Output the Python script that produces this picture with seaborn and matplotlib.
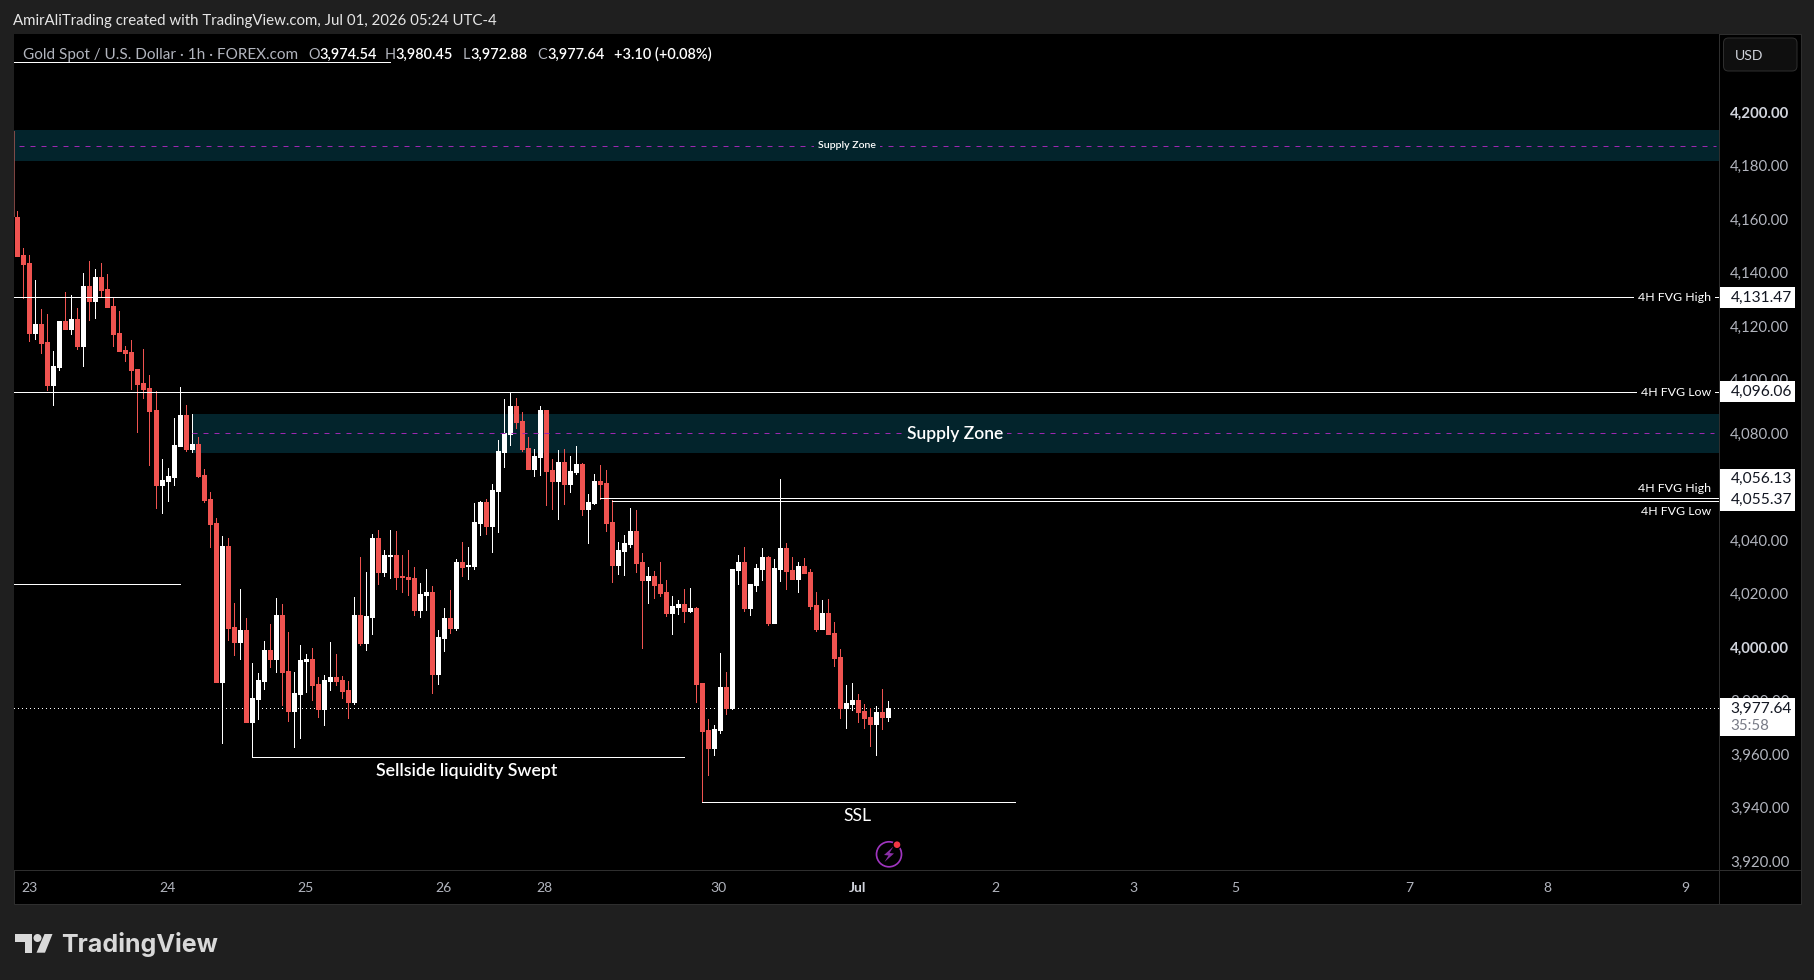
import matplotlib
matplotlib.use("Agg")
import matplotlib.pyplot as plt
from matplotlib.patches import Rectangle, Circle, Polygon, FancyBboxPatch
from matplotlib.transforms import IdentityTransform
import pandas as pd
import seaborn as sns

# Hourly OHLC
opens = [4161.40, 4147.19, 4144.20, 4118.03, 4121.39, 4114.66, 4098.58, 4105.31, 4122.51, 4119.52,
         4123.26, 4113.16, 4135.60, 4129.99, 4138.97, 4134.48, 4128.12, 4118.03, 4111.67, 4110.92,
         4104.56, 4099.33, 4097.46, 4089.23, 4061.17, 4062.67, 4064.18, 4075.77, 4087.36, 4074.65,
         4076.52, 4064.93, 4055.93, 4046.96, 3987.50, 4038.36, 4008.07, 4002.46, 4006.95, 3972.54,
         3981.15, 3987.88, 3999.47, 3996.10, 4012.56, 3991.62, 3976.66, 3983.01, 3995.35, 3996.10,
         3986.75, 3977.41, 3987.88, 3989.37, 3988.25, 3984.52, 3980.03, 4012.56, 4002.09, 4011.81,
         4041.35, 4028.64, 4034.62, 4035.00, 4027.15, 4026.77, 4026.40, 4014.43, 4020.04, 4021.16,
         3990.50, 4003.96, 4011.44, 4007.70, 4032.38, 4030.88, 4030.88, 4046.97, 4054.82, 4045.84,
         4058.93, 4073.52, 4080.25, 4090.72, 4085.11, 4075.01, 4067.16, 4071.65, 4089.22, 4066.78,
         4062.67, 4069.78, 4061.55, 4066.04, 4069.03, 4052.20, 4054.44, 4062.67, 4061.92, 4047.34,
         4031.26, 4036.49, 4039.11, 4043.97, 4032.38, 4025.65, 4027.14, 4024.15, 4021.16, 4013.31,
         4015.55, 4016.67, 4014.05, 4015.18, 3987.13, 3969.55, 3962.82, 3969.55, 3985.63, 3977.78,
         4029.39, 4032.38, 4015.18, 4023.78, 4029.76, 4034.25, 4009.57, 4029.76, 4037.61, 4029.39,
         4026.02, 4030.88, 4028.64, 4016.30, 4007.32, 4013.31, 4005.83, 3996.85, 3977.78, 3979.28,
         3980.77, 3976.66, 3974.41, 3971.80, 3976.28, 3974.54]
closes = [4146.82, 4143.83, 4118.03, 4121.39, 4114.29, 4098.58, 4105.69, 4122.51, 4119.52, 4123.26,
          4113.16, 4135.60, 4129.99, 4138.97, 4134.11, 4127.75, 4117.65, 4111.29, 4110.55, 4104.19,
          4098.96, 4097.08, 4088.86, 4061.17, 4063.06, 4064.55, 4076.14, 4087.36, 4074.65, 4076.52,
          4064.55, 4055.56, 4046.59, 3987.50, 4038.36, 4007.70, 4002.46, 4006.95, 3972.54, 3981.52,
          3988.25, 3999.47, 3996.10, 4012.56, 3991.24, 3976.66, 3983.39, 3995.73, 3996.10, 3986.38,
          3977.41, 3988.25, 3989.37, 3987.88, 3984.14, 3980.03, 4012.56, 4002.09, 4012.19, 4041.35,
          4028.64, 4035.00, 4035.00, 4026.77, 4026.77, 4026.02, 4014.43, 4020.41, 4021.16, 3990.50,
          4004.33, 4011.44, 4007.70, 4032.38, 4030.51, 4031.26, 4047.34, 4054.82, 4045.84, 4059.30,
          4073.89, 4080.62, 4090.72, 4084.73, 4074.64, 4067.16, 4072.02, 4089.22, 4066.41, 4062.67,
          4069.78, 4061.55, 4066.41, 4069.03, 4052.20, 4054.82, 4062.67, 4061.55, 4046.97, 4031.26,
          4036.87, 4039.48, 4043.97, 4032.00, 4025.65, 4027.14, 4023.78, 4020.78, 4013.31, 4015.92,
          4016.67, 4014.05, 4015.18, 3986.76, 3969.18, 3962.82, 3969.93, 3985.63, 3977.78, 4029.76,
          4032.38, 4015.18, 4024.15, 4030.13, 4034.25, 4009.57, 4030.13, 4037.61, 4029.01, 4026.02,
          4030.88, 4028.26, 4015.92, 4007.32, 4013.31, 4005.45, 3996.48, 3977.78, 3979.65, 3980.77,
          3976.28, 3974.04, 3971.80, 3976.28, 3974.41, 3977.64]
highs = [4163.65, 4149.81, 4147.19, 4137.85, 4127.00, 4125.13, 4111.29, 4122.51, 4133.36, 4132.24,
         4127.37, 4140.46, 4144.95, 4141.96, 4144.20, 4140.09, 4131.11, 4126.25, 4113.16, 4115.41,
         4104.56, 4112.04, 4102.32, 4096.34, 4070.91, 4067.54, 4086.24, 4097.83, 4091.10, 4087.74,
         4079.13, 4067.17, 4058.55, 4048.83, 4042.10, 4041.35, 4017.04, 4022.28, 4011.43, 3994.61,
         3990.87, 4002.83, 4009.19, 4018.91, 4016.67, 4006.20, 3991.24, 4001.34, 3997.97, 4000.22,
         3989.37, 3990.12, 4002.46, 3997.98, 3989.75, 3987.88, 4019.29, 4034.25, 4028.64, 4042.85,
         4044.35, 4036.87, 4044.35, 4043.97, 4035.00, 4036.87, 4030.51, 4024.53, 4029.76, 4023.41,
         4006.95, 4015.18, 4021.91, 4033.50, 4039.86, 4037.99, 4054.44, 4055.19, 4055.94, 4061.55,
         4078.00, 4093.33, 4095.95, 4093.71, 4088.47, 4079.12, 4074.64, 4090.72, 4089.22, 4070.90,
         4074.26, 4074.64, 4072.02, 4075.76, 4069.40, 4057.81, 4065.29, 4068.65, 4066.78, 4055.57,
         4039.86, 4042.47, 4052.57, 4051.82, 4035.74, 4030.51, 4029.01, 4032.38, 4025.65, 4019.66,
         4018.17, 4022.28, 4022.65, 4015.55, 3987.13, 3973.67, 3971.42, 3998.35, 3991.24, 4029.76,
         4034.99, 4037.99, 4024.15, 4031.63, 4037.61, 4034.62, 4033.50, 4063.41, 4039.48, 4034.25,
         4032.38, 4033.87, 4029.76, 4021.16, 4018.17, 4018.54, 4009.94, 3999.84, 3986.38, 3987.13,
         3983.01, 3979.28, 3977.78, 3978.53, 3984.89, 3980.45]
lows = [4146.82, 4131.11, 4115.03, 4115.78, 4110.55, 4096.71, 4091.10, 4104.19, 4119.52, 4117.65,
        4112.04, 4105.69, 4122.89, 4123.63, 4131.86, 4127.75, 4113.16, 4111.29, 4107.55, 4097.08,
        4080.99, 4093.72, 4068.66, 4052.57, 4050.70, 4055.19, 4061.17, 4075.77, 4073.90, 4073.52,
        4064.18, 4054.81, 4037.98, 3987.50, 3964.69, 4003.21, 3997.60, 3996.10, 3972.54, 3959.33,
        3973.67, 3984.89, 3993.11, 3991.24, 3978.90, 3972.92, 3963.19, 3966.56, 3983.76, 3980.77,
        3974.41, 3971.43, 3984.52, 3986.38, 3981.52, 3974.04, 3979.28, 4001.34, 3999.47, 4005.46,
        4024.15, 4027.15, 4026.40, 4022.28, 4021.16, 4020.04, 4012.56, 4011.81, 4014.43, 3983.39,
        3986.76, 3999.10, 4005.83, 4006.95, 4027.15, 4026.02, 4029.76, 4042.48, 4042.85, 4036.12,
        4043.60, 4067.91, 4076.13, 4082.49, 4073.89, 4067.16, 4064.54, 4064.91, 4053.70, 4052.20,
        4048.46, 4054.07, 4058.56, 4065.29, 4049.96, 4039.49, 4054.07, 4055.94, 4043.97, 4024.90,
        4027.89, 4027.52, 4037.99, 4028.64, 4000.22, 4017.05, 4018.91, 4019.66, 4012.18, 4005.45,
        4012.93, 4009.94, 4013.68, 3980.15, 3942.63, 3952.73, 3960.20, 3968.43, 3975.54, 3977.41,
        4024.15, 4014.05, 4012.56, 4021.53, 4025.65, 4008.82, 4009.57, 4025.27, 4022.28, 4026.02,
        4021.16, 4028.26, 4014.80, 4006.57, 4007.32, 4005.45, 3993.49, 3974.04, 3970.30, 3977.03,
        3972.54, 3970.30, 3963.57, 3960.20, 3969.93, 3972.88]

price_ticks = [4200, 4180, 4160, 4140, 4120, 4100, 4080, 4060, 4040, 4020, 4000, 3980, 3960, 3940, 3920]
bold_price_ticks = [4200, 4000]
date_positions = [2, 25, 48, 71, 87.8, 116.8, 139.8, 162.8, 185.8, 202.8, 231.7, 254.7, 277.7]
date_labels = ["23", "24", "25", "26", "28", "30", "Jul", "2", "3", "5", "7", "8", "9"]

# drawn levels: price, first bar, last bar (None = pane edge)
level_prices = [4131.47, 4096.06, 4056.13, 4055.37, 4024.04, 3959.33, 3942.50, 4219.26]
level_starts = [None, None, 97, 99, None, 39, 114, None]
level_ends = [None, None, None, None, 27, 111, 166, 62]

last_price = 3977.64
clipped_bar = [4193.4, 4161.4]   # previous bar, only its edge shows in the pane

upper_zone = [4182.35, 4193.94, 4188.1]
lower_zone = [4073.25, 4087.72, 4080.5]
lower_zone_start = 29

W, H = 1814, 980
BG = "#1f1f1f"
BORDER = "#2e2e2e"
ZONE = "#03242c"
PURPLE = "#9c27b0"
RED = "#ef5350"
GREY = "#b2b5be"

sns.set_theme(style="dark")
plt.rcParams["font.family"] = ["Lato", "DejaVu Sans"]
plt.rcParams["lines.dash_capstyle"] = "butt"


def pt(px):
    return px * 72 / 100


fig = plt.figure(figsize=(W / 100, H / 100), dpi=100, facecolor=BG)


def rect(x0, y0, x1, y1, face, edge="none", z=2):
    fig.add_artist(Rectangle((x0, H - y1), x1 - x0, y1 - y0, transform=IdentityTransform(),
                             facecolor=face, edgecolor=edge, lw=pt(1), zorder=z))


def label(x, y, s, color="white", size=13.5, ha="left", weight="normal", z=3, **kw):
    return fig.text(x / W, 1 - y / H, s, color=color, fontsize=pt(size), ha=ha, va="center",
                    fontweight=weight, zorder=z, **kw)


# pane behind the axes, then the separators
rect(13.5, 34, 1800.5, 904, "black", BORDER, z=-1)
rect(1719, 34, 1720, 904, BORDER, z=1)
rect(13.5, 870, 1800.5, 871, BORDER, z=1)

ax = fig.add_axes([13.5 / W, 1 - 870 / H, 1706 / W, 836 / H], facecolor="black")
for s in ax.spines.values():
    s.set_visible(False)
x_left, x_right = -0.64, 283.36
ax.set_xlim(x_left, x_right)
ax.set_ylim(3917.19, 4229.85)

# zones and last price line go behind the candles
ax.fill_between([x_left, x_right], upper_zone[0], upper_zone[1], color=ZONE, lw=0, zorder=1)
ax.fill_between([lower_zone_start, x_right], lower_zone[0], lower_zone[1], color=ZONE, lw=0, zorder=1)
ax.hlines(last_price, x_left, x_right, color="white", lw=pt(1), ls=(0, (1, 3)), antialiased=False, zorder=1.5)

candles = pd.DataFrame({"bar": range(len(opens)), "open": opens, "high": highs, "low": lows, "close": closes})
candles["side"] = ["up" if c >= o else "down" for o, c in zip(opens, closes)]
candles["top"] = candles[["open", "close"]].max(axis=1)
candles["bottom"] = candles[["open", "close"]].min(axis=1)
palette = {"up": "white", "down": RED}

wicks = candles.melt(id_vars=["bar", "side"], value_vars=["high", "low"], value_name="price")
bodies = candles.melt(id_vars=["bar", "side"], value_vars=["top", "bottom"], value_name="price")
sns.lineplot(data=wicks, x="bar", y="price", units="bar", hue="side", palette=palette, estimator=None,
             legend=False, lw=pt(1), antialiased=False, solid_capstyle="butt", zorder=2, ax=ax)
sns.lineplot(data=bodies, x="bar", y="price", units="bar", hue="side", palette=palette, estimator=None,
             legend=False, lw=pt(5), antialiased=False, solid_capstyle="butt", zorder=2.1, ax=ax)
ax.plot([x_left + 0.03] * 2, clipped_bar, color="#9c5450", lw=pt(1.6), solid_capstyle="butt", zorder=2)

# drawn levels
for price, start, end in zip(level_prices, level_starts, level_ends):
    ax.hlines(price, x_left if start is None else start, x_right if end is None else end,
              color="white", lw=pt(0.9), antialiased=False, zorder=3)
ax.hlines(upper_zone[2], x_left + 0.9, x_right - 0.5, color=PURPLE, lw=pt(1), ls=(0, (5, 6)), zorder=3)
ax.hlines(lower_zone[2], lower_zone_start, x_right - 0.9, color=PURPLE, lw=pt(1), ls=(0, (5, 6)), zorder=3)

# axes text
ax.yaxis.tick_right()
ax.set_yticks(price_ticks)
ax.set_yticklabels([f"{v:,.2f}" for v in price_ticks], va="center")
for tick, v in zip(ax.get_yticklabels(), price_ticks):
    bold = v in bold_price_ticks
    tick.set_color("#d1d4dc" if bold else GREY)
    tick.set_fontweight("bold" if bold else "normal")
ax.tick_params(axis="y", length=0, pad=pt(10.5), labelsize=pt(15))
ax.set_xticks(date_positions)
ax.set_xticklabels(date_labels)
for tick, name in zip(ax.get_xticklabels(), date_labels):
    tick.set_color("#d1d4dc" if name == "Jul" else GREY)
    tick.set_fontweight("bold" if name == "Jul" else "normal")
ax.tick_params(axis="x", length=0, pad=pt(12), labelsize=pt(14))
ax.set_xlabel("")
ax.set_ylabel("")
ax.grid(False)

# header and legend
label(13, 20.5, "AmirAliTrading created with TradingView.com, Jul 01, 2026 05:24 UTC-4", "#e6e6e6", 15)
label(22.8, 54.5, "Gold Spot / U.S. Dollar · 1h · FOREX.com", GREY, 15.3)
for x_name, x_val, name, val in [(308.8, 319, "O", "3,974.54"), (385, 395, "H", "3,980.45"),
                                 (463, 470, "L", "3,972.88"), (537, 547, "C", "3,977.64")]:
    label(x_name, 54.5, name, GREY, 14.5)
    label(x_val, 54.5, val, "white", 14.5, weight="semibold")
label(613.7, 54.5, "+3.10 (+0.08%)", "white", 14.5, weight="semibold")

# chart annotations
zone_box = dict(facecolor=ZONE, edgecolor="none", pad=3)
black_box = dict(facecolor="black", edgecolor="none", pad=3)
label(847, 146, "Supply Zone", "white", 10.5, ha="center", weight="semibold", bbox=zone_box)
label(955, 434, "Supply Zone", "white", 17.5, ha="center", weight="semibold", bbox=zone_box)
label(1711, 297.5, "4H FVG High", "white", 12.4, ha="right", bbox=black_box)
label(1711, 392, "4H FVG Low", "white", 12.4, ha="right", bbox=black_box)
label(1711, 488, "4H FVG High", "white", 12.4, ha="right")
label(1711, 511, "4H FVG Low", "white", 12.4, ha="right")
label(466.5, 771, "Sellside liquidity Swept", "white", 17.7, ha="center", weight="semibold")
label(857, 816, "SSL", "white", 17.5, ha="center")

# price scale boxes
for y0, y1 in [(287, 308), (381, 402), (469, 511), (698, 736)]:
    rect(1720, y0, 1795, y1, "white")
for y, s in [(297.5, "4,131.47"), (391.5, "4,096.06"), (479, "4,056.13"), (500, "4,055.37"), (709, "3,977.64")]:
    label(1730.5, y, s, "#131722", 15.5)
label(1730.5, 725.5, "35:58", "#787b86", 15)

fig.add_artist(FancyBboxPatch((1726.5, H - 68), 67.5, 27, boxstyle="round,pad=3,rounding_size=5",
                              transform=IdentityTransform(), facecolor="#0f0f0f", edgecolor=BORDER,
                              lw=pt(1), zorder=2))
label(1735, 55.5, "USD", "#d1d4dc", 14)

# flash icon above the date axis
fig.add_artist(Circle((889, H - 854.3), 12.5, transform=IdentityTransform(), facecolor="none",
                      edgecolor="#a035c0", lw=pt(1.7), zorder=2))
fig.add_artist(Polygon([(893.5, H - 846.5), (884, H - 855), (888.5, H - 855.5), (884.5, H - 862),
                        (894, H - 853.5), (889.5, H - 853)], closed=True, transform=IdentityTransform(),
                       facecolor="#8a2fa6", edgecolor="none", zorder=2))
fig.add_artist(Circle((897, H - 844.7), 4.6, transform=IdentityTransform(), facecolor="black",
                      edgecolor="none", zorder=2))
fig.add_artist(Circle((897, H - 844.7), 3.3, transform=IdentityTransform(), facecolor="#f23645",
                      edgecolor="none", zorder=2))

# TradingView mark and name
LOGO = "#d9d9d9"
rect(15, 934, 32, 942, LOGO)
rect(24.5, 942, 32, 952.7, LOGO)
fig.add_artist(Circle((37.5, H - 938), 4, transform=IdentityTransform(), facecolor=LOGO, edgecolor="none", zorder=2))
fig.add_artist(Polygon([(36.5, H - 952.7), (45, H - 952.7), (52.5, H - 934), (44.5, H - 934)], closed=True,
                       transform=IdentityTransform(), facecolor=LOGO, edgecolor="none", zorder=2))
label(61.5, 944, "TradingView", LOGO, 25, family=["Inter", "DejaVu Sans"], weight="bold")

fig.savefig("out.png", dpi=100, facecolor=BG)
